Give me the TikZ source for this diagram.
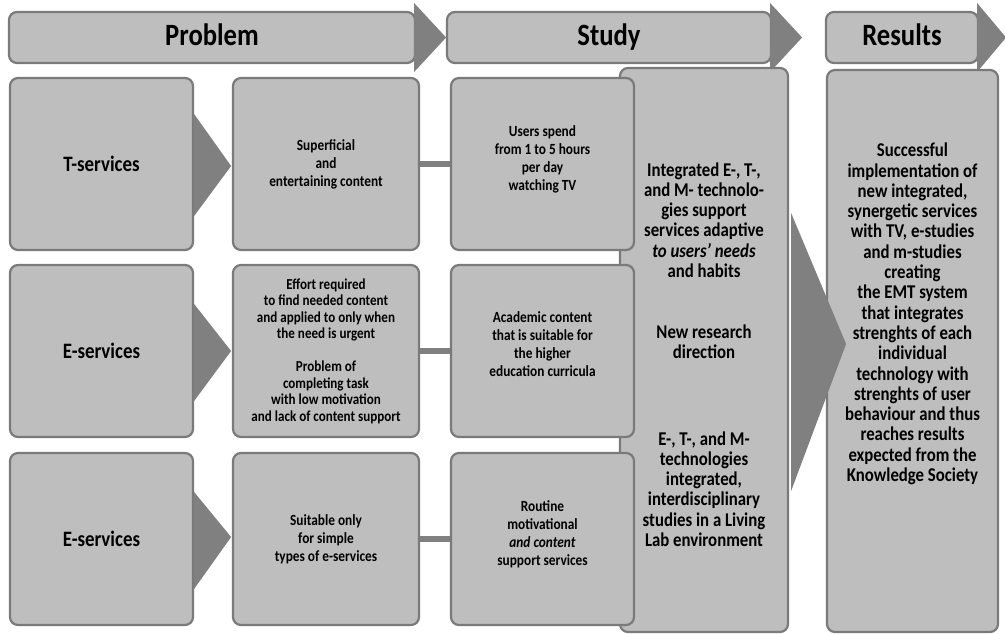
\documentclass[tikz,border=0pt]{standalone}
\usepackage{fontspec}
\setmainfont{Carlito}[FakeStretch=0.86]
\usetikzlibrary{calc}
\definecolor{boxfill}{RGB}{190, 190, 190}
\definecolor{boxline}{RGB}{122, 122, 122}
\definecolor{tipfill}{RGB}{128, 128, 128}
\tikzstyle{stagebox}=[draw=boxline,fill=boxfill,line width=2.2pt,rounded corners=8pt,align=center,inner sep=0pt,font=\bfseries]
\tikzstyle{headbar}=[stagebox,minimum height=51pt,text height=21pt,text depth=5pt,font=\bfseries\fontsize{31}{34}\selectfont]
\tikzstyle{rowbox}=[stagebox,minimum width=184pt,minimum height=172pt]
\tikzstyle{tiptri}=[fill=tipfill]
\tikzstyle{connector}=[draw=tipfill,line width=6pt]
\tikzstyle{leftlabel}=[font=\bfseries\fontsize{22}{24}\selectfont]
\tikzstyle{smalltext}=[font=\bfseries\fontsize{15.5}{18}\selectfont]
\tikzstyle{tinytext}=[font=\bfseries\fontsize{15.2}{16.5}\selectfont]
\tikzstyle{bigtext}=[font=\bfseries\fontsize{19.5}{20.3}\selectfont]

\begin{document}
\begin{tikzpicture}[x=1pt,y=-1pt]
\useasboundingbox (0,0) rectangle (1005,634);

% headers
\node[headbar,minimum width=406pt] (PR) at (212,37.5) {Problem};
\node[headbar,minimum width=324pt] (ST) at (609,37.5) {Study};
\node[headbar,minimum width=152pt] (RS) at (902,37.5) {Results};
\fill[tiptri] ($(PR.east)+(-2,-34.5)$) -- ($(PR.east)+(30,0)$) -- ($(PR.east)+(-2,34.5)$) -- cycle;
\fill[tiptri] ($(ST.east)+(-2,-34.5)$) -- ($(ST.east)+(30,0)$) -- ($(ST.east)+(-2,34.5)$) -- cycle;
\fill[tiptri] ($(RS.east)+(-2,-34.5)$) -- ($(RS.east)+(27,0)$) -- ($(RS.east)+(-2,34.5)$) -- cycle;

% big columns
\node[stagebox,minimum width=168pt,minimum height=564pt] (STUDY) at (704,350) {};
\node[stagebox,minimum width=171pt,minimum height=562pt] (RESULT) at (912.5,351) {};
\node[bigtext,align=center] (STUDYT1) at (704,220) {Integrated E-, T-,\\and M- technolo-\\gies support\\services adaptive\\\textit{to users’ needs}\\and habits};
\node[bigtext,align=center] (STUDYT2) at (704,342) {New research\\direction};
\node[bigtext,align=center] (STUDYT3) at (704,489) {E-, T-, and M-\\technologies\\integrated,\\interdisciplinary\\studies in a Living\\Lab environment};
\node[bigtext,align=center] (RESULTT) at (912.5,314) {Successful\\implementation of\\new integrated,\\synergetic services\\with TV, e-studies\\and m-studies\\creating\\the EMT system\\that integrates\\strenghts of each\\individual\\technology with\\strenghts of user\\behaviour and thus\\reaches results\\expected from the\\Knowledge Society};

% rows
\node[rowbox,leftlabel,minimum width=183pt] (A1) at (101.5,164) {T-services};
\node[rowbox,leftlabel,minimum width=183pt] (A2) at (101.5,351) {E-services};
\node[rowbox,leftlabel,minimum width=183pt] (A3) at (101.5,539) {E-services};

\node[rowbox,smalltext,minimum width=186pt] (B1) at (326,164) {Superficial\\and\\entertaining content};
\node[rowbox,tinytext,minimum width=186pt] (B2) at (326,351) {Effort required\\to find needed content\\and applied to only when\\the need is urgent\\[16.5pt]Problem of\\completing task\\with low motivation\\and lack of content support};
\node[rowbox,smalltext,minimum width=186pt] (B3) at (326,539) {Suitable only\\for simple\\types of e-services};

\node[rowbox,smalltext,minimum width=183pt,text depth=12pt] (C1) at (542.5,164) {Users spend\\from 1 to 5 hours\\per day\\watching TV};
\node[rowbox,smalltext,minimum width=183pt,text depth=14pt] (C2) at (542.5,351) {Academic content\\that is suitable for\\the higher\\education curricula};
\node[rowbox,smalltext,minimum width=183pt,text depth=12pt] (C3) at (542.5,539) {Routine\\motivational\\\textit{and content}\\support services};

\fill[tiptri] ($(A1.east)+(0,-50)$) -- ($(A1.east)+(37,2)$) -- ($(A1.east)+(0,52)$) -- cycle;
\fill[tiptri] ($(A2.east)+(0,-47)$) -- ($(A2.east)+(37,0)$) -- ($(A2.east)+(0,50)$) -- cycle;
\fill[tiptri] ($(A3.east)+(0,-47)$) -- ($(A3.east)+(37,-2)$) -- ($(A3.east)+(0,50)$) -- cycle;

\draw[connector] (B1) -- (C1);
\draw[connector] (B2) -- (C2);
\draw[connector] (B3) -- (C3);

\fill[tiptri] ($(STUDY.east)+(2,-137)$) -- ($(STUDY.east)+(57,-6)$) -- ($(STUDY.east)+(2,141)$) -- cycle;

\end{tikzpicture}
\end{document}
